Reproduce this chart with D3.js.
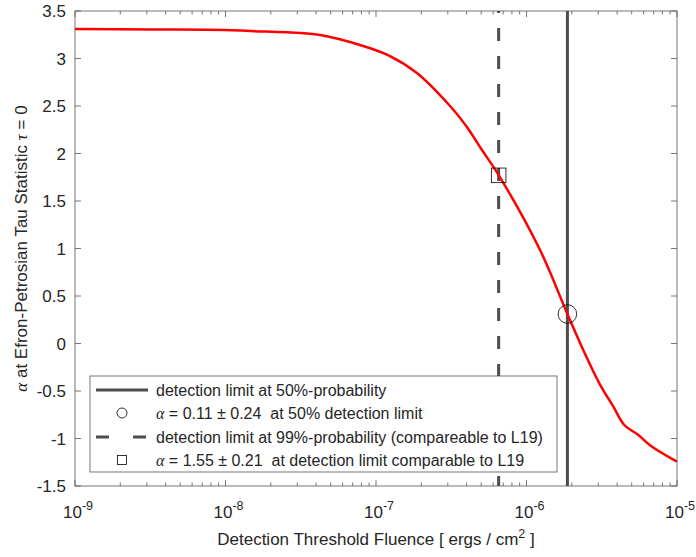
<!DOCTYPE html>
<html><head><meta charset="utf-8">
<script src="https://cdn.jsdelivr.net/npm/d3@7"></script>
<style>body{margin:0;background:#fff}svg{display:block;font-family:"Liberation Sans",Arial,Helvetica,sans-serif}text{white-space:pre}</style>
</head><body><div id="chart"></div>
<script>
// log10 of detection threshold fluence
const curveLogX = [-9, -8.502, -8.003, -7.837, -7.505, -7.372, -7.106, -6.907, -6.728, -6.508, -6.397, -6.296, -6.183, -5.910, -5.731, -5.623, -5.516, -5.423, -5.350, -5.257, -5.175, -5.0];
const curveAlpha = [3.31, 3.305, 3.30, 3.289, 3.268, 3.247, 3.142, 3.026, 2.847, 2.50, 2.282, 2.037, 1.768, 0.984, 0.321, -0.068, -0.419, -0.665, -0.858, -0.963, -1.076, -1.244];
const limit50 = 1.87e-6;
const limit99 = 6.53e-7;
const alpha50 = 0.31;
const alpha99 = 1.77;
const xTicks = [1e-9, 1e-8, 1e-7, 1e-6, 1e-5];
const xTickExp = ["-9", "-8", "-7", "-6", "-5"];
const yTicks = [-1.5, -1, -0.5, 0, 0.5, 1, 1.5, 2, 2.5, 3, 3.5];
const legendLabels = [
  ["", "detection limit at 50%-probability"],
  ["α", " = 0.11 ± 0.24  at 50% detection limit"],
  ["", "detection limit at 99%-probability (compareable to L19)"],
  ["α", " = 1.55 ± 0.21  at detection limit comparable to L19"]
];

const W = 696, H = 557;
const m = {l: 75, r: 677, t: 11, b: 486};
const svg = d3.select("#chart").append("svg").attr("width", W).attr("height", H);
const x = d3.scaleLog().domain([1e-9, 1e-5]).range([m.l, m.r]);
const y = d3.scaleLinear().domain([-1.5, 3.5]).range([m.b, m.t]);
const axisCol = "#262626", tickCol = "#555", lineCol = "#4d4d4d";
const greek = "'Liberation Serif','DejaVu Serif',serif";

// minor ticks
const minor = [];
for (let e = -9; e < -5; e++) for (let k = 2; k <= 9; k++) minor.push(k * Math.pow(10, e));
const g = svg.append("g");
minor.forEach(v => {
  g.append("line").attr("x1", x(v)).attr("x2", x(v)).attr("y1", m.b).attr("y2", m.b - 3.5).attr("stroke", tickCol).attr("stroke-width", 0.8);
  g.append("line").attr("x1", x(v)).attr("x2", x(v)).attr("y1", m.t).attr("y2", m.t + 3.5).attr("stroke", tickCol).attr("stroke-width", 0.8);
});
xTicks.forEach((v, i) => {
  g.append("line").attr("x1", x(v)).attr("x2", x(v)).attr("y1", m.b).attr("y2", m.b - 6).attr("stroke", tickCol).attr("stroke-width", 0.8);
  g.append("line").attr("x1", x(v)).attr("x2", x(v)).attr("y1", m.t).attr("y2", m.t + 6).attr("stroke", tickCol).attr("stroke-width", 0.8);
  const t = g.append("text").attr("x", x(v) + 3).attr("y", 518).attr("text-anchor", "middle").attr("fill", axisCol).attr("font-size", 17);
  t.append("tspan").text("10");
  t.append("tspan").attr("dy", -8).attr("font-size", 12.5).text(xTickExp[i]);
});
yTicks.forEach(v => {
  g.append("line").attr("x1", m.l).attr("x2", m.l + 6).attr("y1", y(v)).attr("y2", y(v)).attr("stroke", tickCol).attr("stroke-width", 0.8);
  g.append("line").attr("x1", m.r).attr("x2", m.r - 6).attr("y1", y(v)).attr("y2", y(v)).attr("stroke", tickCol).attr("stroke-width", 0.8);
  g.append("text").attr("x", 66).attr("y", y(v) + 6).attr("text-anchor", "end").attr("fill", axisCol).attr("font-size", 17).text(String(v));
});

// vertical limit lines
svg.append("line").attr("x1", x(limit50)).attr("x2", x(limit50)).attr("y1", m.t).attr("y2", m.b)
  .attr("stroke", lineCol).attr("stroke-width", 3);
svg.append("line").attr("x1", x(limit99)).attr("x2", x(limit99)).attr("y1", m.t).attr("y2", m.b)
  .attr("stroke", lineCol).attr("stroke-width", 3).attr("stroke-dasharray", "13,15").attr("stroke-dashoffset", 11);

// curve
const pts = curveLogX.map((lx, i) => [Math.pow(10, lx), curveAlpha[i]]);
svg.append("path").datum(pts).attr("fill", "none").attr("stroke", "#ff0000").attr("stroke-width", 2.5)
  .attr("stroke-linejoin", "round")
  .attr("d", d3.line().x(d => x(d[0])).y(d => y(d[1])).curve(d3.curveCatmullRom.alpha(0.5)));

// markers
svg.append("circle").attr("cx", x(limit50)).attr("cy", y(alpha50)).attr("r", 9.3).attr("fill", "none").attr("stroke", "#000").attr("stroke-width", 0.8);
svg.append("rect").attr("x", x(limit99) - 7.3).attr("y", y(alpha99) - 7.3).attr("width", 14.6).attr("height", 14.6).attr("fill", "none").attr("stroke", "#000").attr("stroke-width", 0.8);

// box
svg.append("rect").attr("x", m.l).attr("y", m.t).attr("width", m.r - m.l).attr("height", m.b - m.t)
  .attr("fill", "none").attr("stroke", tickCol).attr("stroke-width", 0.8);

// axis labels
svg.append("text").attr("x", (m.l + m.r) / 2).attr("y", 545).attr("text-anchor", "middle").attr("fill", axisCol).attr("font-size", 17)
  .call(t => {
    t.append("tspan").text("Detection Threshold Fluence [ ergs / cm");
    t.append("tspan").attr("dy", -7).attr("font-size", 12.5).text("2");
    t.append("tspan").attr("dy", 7).text(" ]");
  });
svg.append("text").attr("transform", `translate(27,${(m.t + m.b) / 2}) rotate(-90)`).attr("text-anchor", "middle").attr("fill", axisCol).attr("font-size", 17)
  .call(t => {
    t.append("tspan").attr("font-family", greek).attr("font-style", "italic").text("α");
    t.append("tspan").text(" at Efron-Petrosian Tau Statistic ");
    t.append("tspan").attr("font-family", greek).attr("font-style", "italic").text("τ");
    t.append("tspan").text(" = 0");
  });

// legend
const lg = svg.append("g");
lg.append("rect").attr("x", 90).attr("y", 376).attr("width", 467).attr("height", 96).attr("fill", "#fff").attr("stroke", tickCol).attr("stroke-width", 0.8);
const rowY = [390, 413, 437, 460];
legendLabels.forEach((lab, i) => {
  const t = lg.append("text").attr("x", 156).attr("y", rowY[i] + 5.5).attr("fill", axisCol).attr("font-size", 16);
  if (lab[0]) t.append("tspan").attr("font-family", greek).attr("font-style", "italic").text(lab[0]);
  t.append("tspan").text(lab[1]);
});
lg.append("line").attr("x1", 96).attr("x2", 148).attr("y1", rowY[0]).attr("y2", rowY[0]).attr("stroke", lineCol).attr("stroke-width", 3);
lg.append("line").attr("x1", 96).attr("x2", 148).attr("y1", rowY[2]).attr("y2", rowY[2]).attr("stroke", lineCol).attr("stroke-width", 3).attr("stroke-dasharray", "13,24");
lg.append("circle").attr("cx", 122).attr("cy", rowY[1]).attr("r", 5).attr("fill", "none").attr("stroke", "#000").attr("stroke-width", 0.8);
lg.append("rect").attr("x", 117.5).attr("y", rowY[3] - 4.5).attr("width", 9).attr("height", 9).attr("fill", "none").attr("stroke", "#000").attr("stroke-width", 0.8);
</script></body></html>
